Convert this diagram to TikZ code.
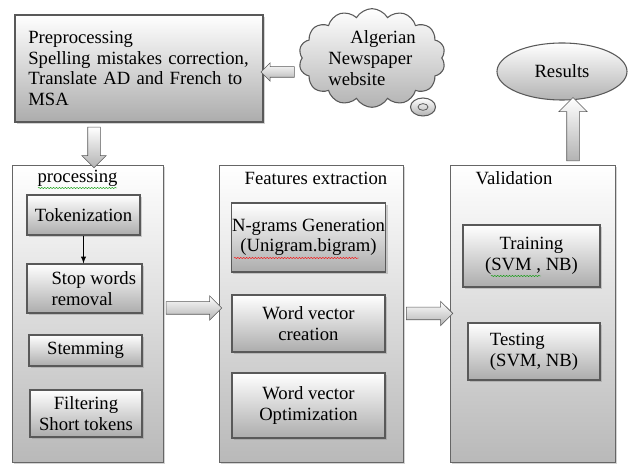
\documentclass[tikz,border=0pt]{standalone}
\usepackage{fontspec}
\setmainfont{Liberation Serif}
\usetikzlibrary{calc,shadows,shapes.geometric,shapes.symbols,shapes.arrows,decorations.pathmorphing}

\tikzset{
  stage/.style={draw=gray!80!black, top color=white, bottom color=gray!55, drop shadow={shadow xshift=1.5pt, shadow yshift=-1.5pt, opacity=.35}},
  task/.style={draw=gray!70!black, top color=white, bottom color=gray!65, line width=.8pt, drop shadow={shadow xshift=1.5pt, shadow yshift=-1.5pt, opacity=.35}, inner sep=.5pt},
  blockarrow/.style={single arrow, draw=gray!70!black, top color=white, bottom color=gray!60, inner sep=0pt, inner ysep=4.5pt, single arrow head extend=4.5pt},
  squiggle/.style={decorate, decoration={snake, amplitude=.4pt, segment length=2.2pt}, line width=.35pt}
}

\begin{document}
\begin{tikzpicture}[x=0.75pt,y=-0.75pt,font=\fontsize{14}{15.5}\selectfont]
   \useasboundingbox (0,0) rectangle (629,466);
   % input and preprocessing
   \node[task, minimum width=186pt, minimum height=80.25pt, text width=166pt, align=left] (pre) at (139,68.5)
      {Preprocessing\\ \mbox{Spelling mistakes correction,}\\ \makebox[164pt][s]{Translate AD and French to}\\ MSA};
   \node[cloud, cloud puffs=14, cloud puff arc=120, aspect=1.5, draw=gray!70!black, top color=white, bottom color=gray!60, line width=.8pt, minimum width=110pt, minimum height=74pt, inner sep=0pt, align=left] (web) at (372,58)
      {\hspace*{16.5pt}Algerian\\ Newspaper\\ website};
   \node[ellipse, draw=gray!70!black, top color=white, bottom color=gray!60, line width=.8pt, minimum width=18.75pt, minimum height=13.5pt, inner sep=0pt] (bubble) at (423,107) {};
   \node[ellipse, draw=gray!70!black, line width=.6pt, minimum width=7.5pt, minimum height=5pt, inner sep=0pt] (ring) at (bubble) {};
   % stages
   \node[stage, minimum width=113.25pt, minimum height=222.75pt] (proc) at (87.5,313.5) {};
   \node[stage, minimum width=138pt, minimum height=222.75pt] (feat) at (311,313.5) {};
   \node[stage, minimum width=123.75pt, minimum height=222.75pt] (val) at (532.5,313.5) {};
   \node (proctitle) at (77.5,178) {processing};
   \node (feattitle) at (316,178) {Features extraction};
   \node (valtitle) at (514,178) {Validation};
   \draw[squiggle, green!60!black] (38,188) -- (117,188);
   % processing steps
   \node[task, minimum width=84.75pt, minimum height=30pt] (tok) at (83.5,215) {Tokenization};
   \node[task, minimum width=86.25pt, minimum height=36.75pt, align=left] (stop) at (84.5,288.5) {\hspace*{14pt}Stop words\\ \hspace*{14pt}removal};
   \node[task, minimum width=84.75pt, minimum height=23.25pt] (stem) at (85.5,350.5) {Stemming};
   \node[task, minimum width=84pt, minimum height=35.25pt, align=center] (filt) at (86,413.5) {Filtering\\ Short tokens};
   \draw[-latex, thick] (tok.south) -- (tok.south |- stop.north);
   % features
   \node[task, minimum width=114.75pt, minimum height=51.75pt, align=center] (ngram) at (308.5,237.5) {N-grams Generation\\ (Unigram.bigram)};
   \node[task, minimum width=114.75pt, minimum height=42.75pt, align=center] (wvc) at (308.5,323.5) {Word vector\\ creation};
   \node[task, minimum width=114.75pt, minimum height=48.75pt, align=center] (wvo) at (308.5,405.5) {Word vector\\ Optimization};
   \draw[squiggle, red] (234,258) -- (359,258);
   % validation
   \node[task, minimum width=102.75pt, minimum height=46.5pt, align=center] (train) at (531.5,256) {Training\\ (SVM , NB)};
   \node[task, minimum width=99pt, minimum height=42.75pt, align=left] (test) at (534,351.5) {Testing\\ (SVM, NB)};
   \draw[squiggle, green!60!black] (491,276) -- (541,276);
   \node[ellipse, draw=gray!70!black, top color=white, bottom color=gray!60, line width=.8pt, minimum width=97.5pt, minimum height=42.75pt] (res) at (562,71.5) {Results};
   % block arrows
   \coordinate (webout) at (297,72);
   \coordinate (preout) at (94,124);
   \coordinate (procout) at (163,308);
   \coordinate (valout) at (573,164);
   \path let \p1=($(pre.east |- webout)-(webout)$), \n1={veclen(\x1,\y1)} in
      node[blockarrow, inner ysep=3.75pt, single arrow head extend=3pt, minimum height=\n1, shape border rotate=180] at ($(webout)!.5!(pre.east |- webout)$) {};
   \path let \p1=($(preout |- proc.north)-(preout)$), \n1={veclen(\x1,\y1)} in
      node[blockarrow, inner ysep=0pt, inner xsep=4.5pt, minimum height=\n1, shape border rotate=270] at ($(preout)!.5!(preout |- proc.north)$) {};
   \path let \p1=($(feat.west |- procout)-(procout)$), \n1={veclen(\x1,\y1)} in
      node[blockarrow, minimum height=\n1] at ($(procout)!.5!(feat.west |- procout)$) {};
   \path let \p1=($(val.west)-(feat.east)$), \n1={veclen(\x1,\y1)} in
      node[blockarrow, minimum height=\n1] at ($(feat.east)!.5!(val.west)$) {};
   \path let \p1=($(valout |- res.south)-(valout)$), \n1={veclen(\x1,\y1)} in
      node[blockarrow, inner ysep=0pt, inner xsep=4.5pt, single arrow head extend=6pt, minimum height=\n1, shape border rotate=90] at ($(valout)!.5!(valout |- res.south)$) {};
\end{tikzpicture}
\end{document}
